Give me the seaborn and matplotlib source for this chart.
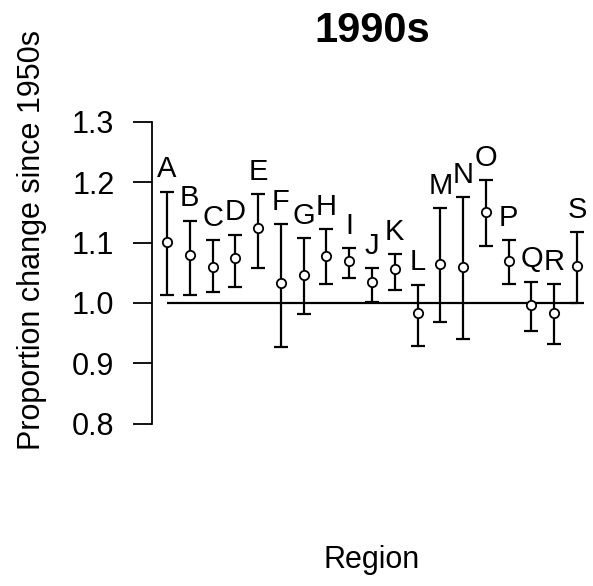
import matplotlib
matplotlib.use("Agg")
import matplotlib.pyplot as plt
import pandas as pd
import seaborn as sns

# Values (proportion change since 1950s, 1990s)
regions = list("ABCDEFGHIJKLMNOPQRS")
means = [1.101, 1.079, 1.060, 1.074, 1.124, 1.033, 1.046, 1.078, 1.070, 1.034,
         1.057, 0.983, 1.065, 1.060, 1.151, 1.070, 0.997, 0.983, 1.061]
upper = [1.184, 1.136, 1.104, 1.113, 1.180, 1.130, 1.107, 1.122, 1.091, 1.058,
         1.081, 1.030, 1.157, 1.175, 1.203, 1.104, 1.035, 1.031, 1.117]
lower = [1.013, 1.013, 1.018, 1.027, 1.058, 0.927, 0.982, 1.031, 1.041, 1.001,
         1.022, 0.928, 0.968, 0.940, 1.094, 1.031, 0.954, 0.932, 1.000]
yticks = [0.8, 0.9, 1.0, 1.1, 1.2, 1.3]

df = pd.DataFrame({"region": regions, "mean": means, "upper": upper, "lower": lower})
df["pos"] = range(1, len(df) + 1)

sns.set_theme(style="white")
plt.rcParams["font.family"] = ["Liberation Sans", "DejaVu Sans"]
plt.rcParams["text.color"] = "black"
plt.rcParams["ytick.color"] = "black"
plt.rcParams["ytick.labelcolor"] = "black"

fig = plt.figure(figsize=(5.93, 5.86), dpi=100)
ax = fig.add_axes([0.2563, 0.198, 0.742, 0.6314])

# reference line at 1.0
ax.hlines(1.0, df["pos"].min(), df["pos"].max(), color="black", lw=1.6, zorder=1)

# error bars (cap width = 2 * capsize points)
ax.errorbar(df["pos"], df["mean"],
            yerr=[df["mean"] - df["lower"], df["upper"] - df["mean"]],
            fmt="none", ecolor="black", elinewidth=1.6, capsize=5, capthick=1.6, zorder=2)

# mean points
sns.scatterplot(data=df, x="pos", y="mean", ax=ax, s=45, marker="o",
                facecolor="white", edgecolor="black", linewidth=1.3, zorder=3, legend=False)

# region letters above bars
for _, r in df.iterrows():
    ax.annotate(r["region"], (r["pos"], r["upper"]), xytext=(0, 6),
                textcoords="offset points", ha="center", va="bottom", fontsize=21)

ax.set_xlim(0.342, 19.658)
ax.set_ylim(0.7235, 1.336)
ax.set_xticks([])
ax.set_yticks(yticks)
ax.set_yticklabels([f"{t:.1f}" for t in yticks], fontsize=22)
ax.tick_params(axis="y", length=14, width=1.3, pad=13, left=True, color="black")
for s in ["top", "right", "bottom"]:
    ax.spines[s].set_visible(False)
ax.spines["left"].set_bounds(0.8, 1.3)
ax.spines["left"].set_color("black")
ax.spines["left"].set_linewidth(1.3)

ax.set_xlabel("")
ax.set_ylabel("")
fig.text(372 / 593, 1 - 31 / 586, "1990s", ha="center", va="center",
         fontsize=30, fontweight="bold")
fig.text(372 / 593, 1 - 560 / 586, "Region", ha="center", va="center", fontsize=22)
fig.text(32 / 593, 1 - 240 / 586, "Proportion change since 1950s", ha="center",
         va="center", rotation=90, fontsize=22)

fig.savefig("out.png", dpi=100)
